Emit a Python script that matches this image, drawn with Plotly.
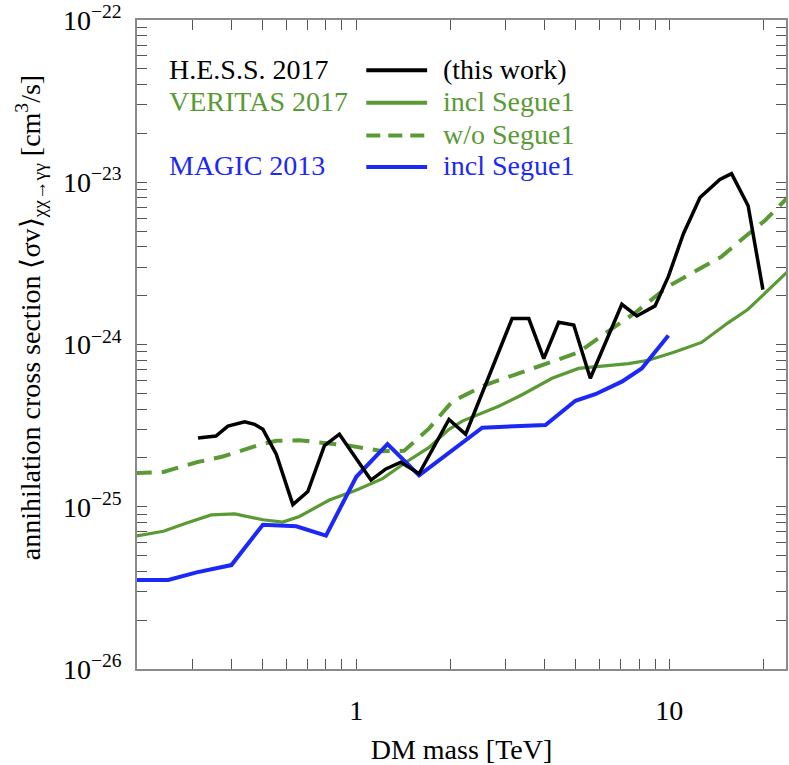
import plotly.graph_objects as go

# ---------------- data ----------------
hess_mass = [0.312, 0.356, 0.389, 0.440, 0.473, 0.503, 0.555, 0.627, 0.700, 0.791,
             0.883, 1.114, 1.243, 1.387, 1.587, 1.977, 2.235, 3.145, 3.556, 3.97,
             4.43, 4.95, 5.59, 6.39, 7.05, 7.87, 9.0, 9.93, 11.09, 12.53,
             14.5, 15.8, 17.85, 19.9]
hess_sv = [2.65e-25, 2.73e-25, 3.14e-25, 3.34e-25, 3.22e-25, 3.0e-25, 2.11e-25, 1.03e-25, 1.24e-25, 2.38e-25,
           2.80e-25, 1.46e-25, 1.71e-25, 1.88e-25, 1.60e-25, 3.45e-25, 2.80e-25, 1.445e-24, 1.445e-24, 8.19e-25,
           1.37e-24, 1.32e-24, 6.19e-25, 1.13e-24, 1.77e-24, 1.50e-24, 1.73e-24, 2.63e-24, 4.82e-24, 8.05e-24,
           1.04e-23, 1.13e-23, 7.16e-24, 2.18e-24]

ver_incl_mass = [0.196, 0.242, 0.287, 0.344, 0.409, 0.503, 0.582, 0.658, 0.820, 0.998,
                 1.213, 1.44, 1.708, 1.977, 2.18, 2.85, 3.385, 4.22, 5.13, 6.09,
                 7.40, 8.57, 10.4, 12.67, 15.4, 17.85, 20.2, 23.8]
ver_incl_sv = [6.59e-26, 7.06e-26, 7.94e-26, 8.91e-26, 9.04e-26, 8.31e-26, 8.05e-26, 8.71e-26, 1.10e-25, 1.265e-25,
               1.49e-25, 1.88e-25, 2.32e-25, 3.0e-25, 3.37e-25, 4.16e-25, 4.90e-25, 6.19e-25, 7.12e-25, 7.38e-25,
               7.63e-25, 8.0e-25, 8.98e-25, 1.03e-24, 1.36e-24, 1.65e-24, 2.08e-24, 2.8e-24]

ver_wo_mass = [0.196, 0.242, 0.309, 0.375, 0.491, 0.555, 0.658, 0.781, 0.950, 1.213,
               1.42, 1.708, 2.026, 2.59, 3.30, 4.22, 5.13, 6.09, 7.78, 9.93,
               12.67, 14.68, 17.4, 20.2, 23.8]
ver_wo_sv = [1.61e-25, 1.64e-25, 1.88e-25, 2.04e-25, 2.41e-25, 2.55e-25, 2.57e-25, 2.49e-25, 2.38e-25, 2.20e-25,
             2.21e-25, 3.04e-25, 4.46e-25, 5.64e-25, 6.64e-25, 7.80e-25, 8.94e-25, 1.135e-24, 1.57e-24, 2.29e-24,
             2.95e-24, 3.48e-24, 4.6e-24, 5.81e-24, 8.0e-24]

magic_mass = [0.196, 0.2506, 0.309, 0.399, 0.503, 0.643, 0.80, 1.0, 1.258, 1.587,
              2.525, 4.02, 5.01, 5.80, 7.05, 8.16, 9.93]
magic_sv = [3.54e-26, 3.54e-26, 3.94e-26, 4.37e-26, 7.75e-26, 7.58e-26, 6.64e-26, 1.53e-25, 2.43e-25, 1.56e-25,
            3.07e-25, 3.19e-25, 4.50e-25, 4.94e-25, 5.90e-25, 7.11e-25, 1.135e-24]

x_major = [1, 10]
x_major_text = ["1", "10"]
x_minor = [0.2, 0.3, 0.4, 0.5, 0.6, 0.7, 0.8, 0.9, 2, 3, 4, 5, 6, 7, 8, 9, 20]
y_exps = [-26, -25, -24, -23, -22]

legend_left = ["H.E.S.S. 2017", "VERITAS 2017", "", "MAGIC 2013"]
legend_right = ["(this work)", "incl Segue1", "w/o Segue1", "incl Segue1"]

# ---------------- styling ----------------
BLACK = "#000000"
GREEN = "#5a9a34"
BLUE = "#1c28f5"
FONT = "Liberation Serif"
FS = 28

fig = go.Figure()
fig.add_trace(go.Scatter(x=ver_wo_mass, y=ver_wo_sv, mode="lines",
                         line=dict(color=GREEN, width=4, dash="17px,10px"), showlegend=False))
fig.add_trace(go.Scatter(x=ver_incl_mass, y=ver_incl_sv, mode="lines",
                         line=dict(color=GREEN, width=3.2), showlegend=False))
fig.add_trace(go.Scatter(x=magic_mass, y=magic_sv, mode="lines",
                         line=dict(color=BLUE, width=4), showlegend=False))
fig.add_trace(go.Scatter(x=hess_mass, y=hess_sv, mode="lines",
                         line=dict(color=BLACK, width=3.5), showlegend=False))

y_major = [10.0 ** e for e in y_exps]
y_major_text = ["10<sup>−%d</sup>" % (-e) for e in y_exps]
y_minor = [m * 10.0 ** e for e in y_exps[:-1] for m in range(2, 10)]

AX = "#8a8a8a"
fig.update_xaxes(type="log", range=[-0.7006, 1.3726],
                 tickmode="array", tickvals=x_major, ticktext=x_major_text,
                 ticks="inside", ticklen=10, tickwidth=1, tickcolor="#555",
                 minor=dict(tickmode="array", tickvals=x_minor, ticks="inside", ticklen=10,
                            tickwidth=1, tickcolor="#555"),
                 showline=True, linecolor=AX, linewidth=1.5, mirror="ticks",
                 showgrid=False, zeroline=False, ticklabelstandoff=16,
                 tickfont=dict(family=FONT, size=FS, color="black"),
                 title=dict(text="DM mass [TeV]", font=dict(family=FONT, size=FS, color="black"),
                            standoff=18))
fig.update_yaxes(type="log", range=[-26, -22],
                 tickmode="array", tickvals=y_major, ticktext=y_major_text,
                 ticks="inside", ticklen=10, tickwidth=1, tickcolor="#555",
                 minor=dict(tickmode="array", tickvals=y_minor, ticks="inside", ticklen=10,
                            tickwidth=1, tickcolor="#555"),
                 showline=True, linecolor=AX, linewidth=1.5, mirror="ticks",
                 showgrid=False, zeroline=False, ticklabelstandoff=8,
                 tickfont=dict(family=FONT, size=FS, color="black"))

L, R, T, B = 137, 788, 20, 678
W, H = 789, 765


def px(xp):
    return (xp - L) / (R - L)


def py(yp):
    return (B - yp) / (B - T)


annotations = []
shapes = []
row_y = [70, 103, 136, 168]
row_col = [BLACK, GREEN, GREEN, BLUE]
row_dash = ["solid", "solid", "dash", "solid"]
for i in range(4):
    if legend_left[i]:
        annotations.append(dict(xref="paper", yref="paper", x=px(167), y=py(row_y[i]),
                                text=legend_left[i], showarrow=False, xanchor="left", yanchor="middle",
                                font=dict(family=FONT, size=FS, color=row_col[i])))
    annotations.append(dict(xref="paper", yref="paper", x=px(442), y=py(row_y[i]),
                            text=legend_right[i], showarrow=False, xanchor="left", yanchor="middle",
                            font=dict(family=FONT, size=FS, color=row_col[i])))
    shapes.append(dict(type="line", xref="paper", yref="paper",
                       x0=px(367), x1=px(428), y0=py(row_y[i] + 1), y1=py(row_y[i] + 1),
                       line=dict(color=row_col[i], width=4,
                                 dash="14px,8px" if row_dash[i] == "dash" else "solid")))

annotations.append(dict(xref="paper", yref="paper", x=px(31), y=py(322),
                        text="annihilation cross section ⟨σv⟩<sub>χχ→γγ</sub> [cm<sup>3</sup>/s]",
                        textangle=-90, showarrow=False, xanchor="center", yanchor="middle",
                        font=dict(family=FONT, size=FS, color="black")))

fig.update_layout(width=W, height=H, margin=dict(l=L, r=W - R, t=T, b=H - B),
                  plot_bgcolor="white", paper_bgcolor="white",
                  annotations=annotations, shapes=shapes, showlegend=False)

fig.write_html("out.html")
